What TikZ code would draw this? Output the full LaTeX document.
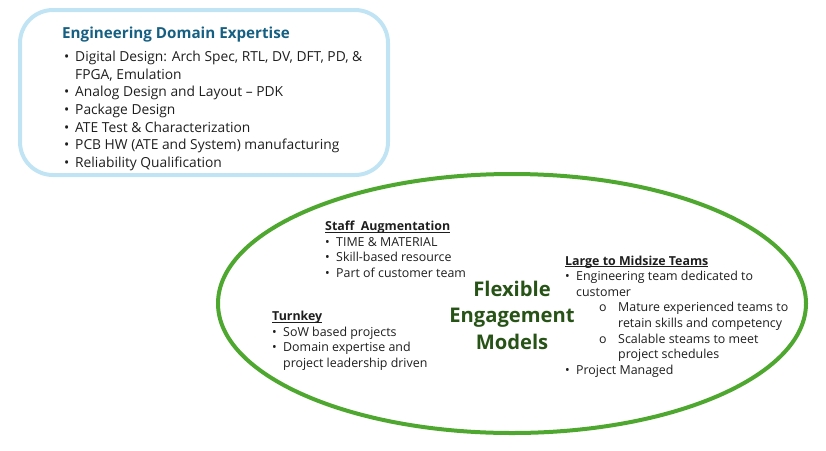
\documentclass[tikz,border=0pt]{standalone}
\usepackage{fontspec}
\setmainfont{Open Sans}
\usepackage{tikz}
\usetikzlibrary{shapes.geometric}

\definecolor{boxblue}{HTML}{C1E4F5}
\definecolor{headblue}{HTML}{156082}
\definecolor{ringgreen}{HTML}{4EA72E}
\definecolor{titlegreen}{HTML}{275317}
\definecolor{ink}{HTML}{1E1E1E}

\newcommand{\bul}{\makebox[11pt][l]{\textbullet}}
\newcommand{\nob}{\hspace*{11pt}}
\newcommand{\subb}{\hspace*{34pt}\makebox[19pt][l]{o}}
\newcommand{\nosub}{\hspace*{53pt}}
\newcommand{\undl}[1]{\setbox0=\hbox{\bfseries #1}\rlap{\rule[-1.7pt]{\wd0}{0.7pt}}\box0}

\begin{document}
\begin{tikzpicture}[x=1pt, y=-1pt,
                    list/.style={inner sep=0, anchor=north west, align=left, text=ink,
                                 font=\fontsize{12.4}{15.6}\selectfont},
                    biglist/.style={list, font=\fontsize{13.8}{17.6}\selectfont}]
    \useasboundingbox (0,0) rectangle (826,450);

    % domain box
    \node (domain) [draw=boxblue, line width=4pt, rounded corners=33pt,
                    minimum width=368pt, minimum height=165pt] at (204,92.5) {};
    \node (domhead) [anchor=west, inner sep=0, text=headblue,
                     font=\fontsize{15.2}{18}\selectfont\bfseries] at (62,35) {Engineering Domain Expertise};
    \node (domlist) [biglist] at (64,51) {\bul Digital Design: Arch Spec, RTL, DV, DFT, PD, \&\\
        \nob FPGA, Emulation\\
        \bul Analog Design and Layout -- PDK\\
        \bul Package Design\\
        \bul ATE Test \& Characterization\\
        \bul PCB HW (ATE and System) manufacturing\\
        \bul Reliability Qualification};

    % engagement models
    \node (ring) [draw=ringgreen, line width=4pt, ellipse, inner sep=0,
                  minimum width=588pt, minimum height=259pt] at (512,303.5) {};
    \node (models) [text=titlegreen, align=center, inner sep=0,
                    font=\fontsize{20.2}{26.5}\selectfont\bfseries] at (512,315) {Flexible\\Engagement\\Models};

    \node (staff) [list] at (325,221) {\undl{Staff\ \ Augmentation}\\
        \bul TIME \& MATERIAL\\
        \bul Skill-based resource\\
        \bul Part of customer team};

    \node (turnkey) [list] at (272,311) {\undl{Turnkey}\\
        \bul SoW based projects\\
        \bul Domain expertise and\\
        \nob project leadership driven};

    \node (teams) [list] at (565,255.5) {\undl{Large to Midsize Teams}\\
        \bul Engineering team dedicated to\\
        \nob customer\\
        \subb Mature experienced teams to\\
        \nosub retain skills and competency\\
        \subb Scalable steams to meet\\
        \nosub project schedules\\
        \bul Project Managed};
\end{tikzpicture}
\end{document}
